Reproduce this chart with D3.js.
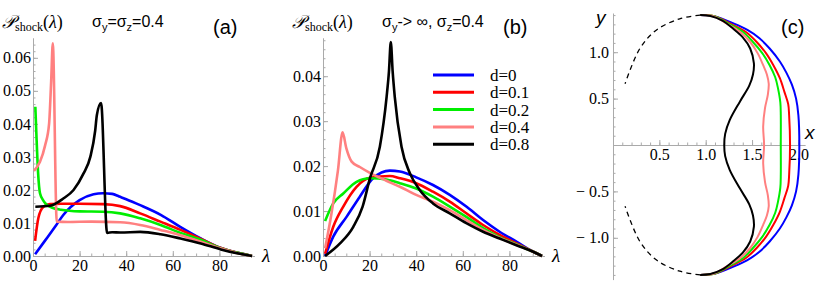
<!DOCTYPE html>
<html>
<head>
<meta charset="utf-8">
<script src="https://d3js.org/d3.v7.min.js"></script>
<style>
  body { margin: 0; background: #fff; }
  svg { display: block; }
  .axis path, .axis line { stroke: #aaa; }
</style>
</head>
<body>
<svg id="chart" width="830" height="285"></svg>
<script>
// ---------- data ----------
const colors = ["#0000ff", "#ff0000", "#00ee00", "#ff8080", "#000000"];
const legendLabels = ["d=0", "d=0.1", "d=0.2", "d=0.4", "d=0.8"];

// panel (a): sigma_y = sigma_z = 0.4
const aLam0 = [0.9, 5, 10, 13, 20, 26, 30, 34, 37, 40, 46, 55, 63, 72, 80, 87, 94];
const aVal0 = [0.0005, 0.0045, 0.0094, 0.0124, 0.0169, 0.0187, 0.019, 0.0188, 0.018, 0.0172, 0.0154, 0.0124, 0.0089, 0.0053, 0.0026, 0.0011, 0];
const aLam1 = [0.9, 2.3, 4.5, 7.3, 12, 20, 30, 37.4, 46, 54.7, 63.3, 72, 80, 87, 94];
const aVal1 = [0.0046, 0.0115, 0.0149, 0.0157, 0.0158, 0.0158, 0.0157, 0.0151, 0.0129, 0.0104, 0.0079, 0.0052, 0.0026, 0.0011, 0];
const aLam2 = [1, 1.5, 2.2, 3, 4.5, 5.9, 8, 12, 20, 30, 37.4, 46, 54.7, 63.3, 72, 80, 87, 94];
const aVal2 = [0.0452, 0.036, 0.025, 0.019, 0.0167, 0.0155, 0.0147, 0.014, 0.0135, 0.0134, 0.0129, 0.0114, 0.0094, 0.007, 0.0049, 0.0025, 0.0011, 0];
const aLam4 = [0.4, 3, 5.2, 6.9, 7.8, 8.5, 10.2, 15, 25, 37.4, 46, 54.7, 63.3, 72, 80, 87, 94];
const aVal4 = [0.0258, 0.0285, 0.0335, 0.04, 0.053, 0.0644, 0.0104, 0.0103, 0.0104, 0.0102, 0.0094, 0.0079, 0.0063, 0.0043, 0.0024, 0.001, 0];
const aLam8 = [1, 7.3, 13, 17.4, 21.7, 24.6, 26.7, 27.4, 29.2, 31.8, 34, 37.4, 46, 54.7, 63.3, 72, 80.6, 87, 94];
const aVal8 = [0.0149, 0.0152, 0.0174, 0.02, 0.025, 0.03, 0.038, 0.0426, 0.0463, 0.007, 0.0072, 0.0071, 0.0073, 0.0066, 0.0053, 0.0038, 0.002, 0.0009, 0];

// panel (b): sigma_y -> infinity, sigma_z = 0.4
const bLam0 = [0.9, 4.4, 10.1, 15.8, 21.5, 28.7, 33, 40, 47.2, 54.4, 61.5, 68.7, 75.8, 83, 90, 94];
const bVal0 = [0, 0.0043, 0.0087, 0.0132, 0.0173, 0.019, 0.0188, 0.0175, 0.0158, 0.0136, 0.011, 0.008, 0.0054, 0.0032, 0.001, 0];
const bLam1 = [0.9, 4.4, 8.7, 14.4, 20.1, 28.7, 33, 40, 47.2, 54.4, 61.5, 68.7, 75.8, 83, 90, 94];
const bVal1 = [0.0005, 0.0065, 0.011, 0.0154, 0.0174, 0.0178, 0.0173, 0.0162, 0.0143, 0.0121, 0.0095, 0.0069, 0.0047, 0.0028, 0.001, 0];
const bLam2 = [0.9, 4.4, 8.7, 14.4, 20.1, 27.3, 33, 40, 47.2, 54.4, 61.5, 68.7, 75.8, 83, 90, 94];
const bVal2 = [0.0078, 0.0117, 0.0139, 0.0165, 0.0173, 0.017, 0.0162, 0.015, 0.0132, 0.011, 0.0087, 0.0062, 0.0042, 0.0026, 0.001, 0];
const bLam4 = [0.9, 3.5, 6.4, 8.4, 10, 12.3, 15.8, 20.1, 27, 33, 40, 47.2, 54.4, 61.5, 68.7, 75.8, 83, 90, 94];
const bVal4 = [0.0017, 0.009, 0.019, 0.0275, 0.024, 0.021, 0.0198, 0.0185, 0.0168, 0.0154, 0.0136, 0.0121, 0.0102, 0.008, 0.0058, 0.004, 0.0025, 0.001, 0];
const bLam8 = [0.9, 7.3, 13, 17, 20.1, 24.4, 27.3, 28.3, 29.1, 29.9, 30.8, 33.7, 37.3, 41.5, 47.2, 54.4, 61.5, 68.7, 75.8, 83, 90, 94];
const bVal8 = [0, 0.0028, 0.0065, 0.011, 0.0172, 0.0243, 0.0354, 0.041, 0.0476, 0.041, 0.0354, 0.0243, 0.0184, 0.0147, 0.0117, 0.0095, 0.0073, 0.0054, 0.0039, 0.0024, 0.001, 0];

// panel (c): shock front shapes, upper half (top -> x axis), mirrored below
const cX0 = [0.94, 1.10, 1.30, 1.45, 1.58, 1.69, 1.80, 1.87, 1.93, 1.975, 2.00, 2.01];
const cY0 = [1.40, 1.385, 1.31, 1.24, 1.15, 1.04, 0.90, 0.78, 0.65, 0.50, 0.32, 0];
const cX1 = [0.94, 1.10, 1.28, 1.43, 1.55, 1.65, 1.73, 1.80, 1.85, 1.89, 1.90, 1.91];
const cY1 = [1.40, 1.385, 1.30, 1.22, 1.11, 0.99, 0.86, 0.72, 0.57, 0.44, 0.32, 0];
const cX2 = [0.94, 1.10, 1.26, 1.40, 1.51, 1.61, 1.69, 1.75, 1.78, 1.805, 1.81, 1.81];
const cY2 = [1.40, 1.385, 1.30, 1.22, 1.11, 0.99, 0.86, 0.73, 0.61, 0.46, 0.32, 0];
const cX4 = [0.94, 1.09, 1.24, 1.37, 1.48, 1.56, 1.62, 1.66, 1.68, 1.67, 1.64, 1.62, 1.63];
const cY4 = [1.40, 1.385, 1.30, 1.22, 1.11, 0.99, 0.86, 0.76, 0.66, 0.54, 0.40, 0.2, 0];
const cX8 = [0.94, 1.05, 1.18, 1.30, 1.40, 1.48, 1.52, 1.51, 1.47, 1.37, 1.26, 1.21, 1.20];
const cY8 = [1.40, 1.39, 1.34, 1.25, 1.16, 1.04, 0.88, 0.76, 0.64, 0.47, 0.27, 0.12, 0];
const cDashX = [0.94, 0.72, 0.47, 0.29, 0.13];
const cDashY = [1.40, 1.36, 1.24, 1.04, 0.66];

const xTicksAB = [0, 20, 40, 60, 80];
const yTicksA = [0, 0.01, 0.02, 0.03, 0.04, 0.05, 0.06];
const yTicksB = [0, 0.01, 0.02, 0.03, 0.04];
const xTicksC = [0.5, 1.0, 1.5, 2.0];
const yTicksC = [-1.0, -0.5, 0.5, 1.0];

// ---------- drawing ----------
const SERIF = "'Liberation Serif', serif";
const SANS = "'Liberation Sans', sans-serif";
const svg = d3.select("#chart");
const zip = (xs, ys) => xs.map((x, i) => [x, ys[i]]);

function styleAxis(sel) {
  sel.attr("font-family", null).attr("font-size", null);
  sel.selectAll("text").attr("fill", "#000")
    .style("font-family", SERIF).style("font-size", "16px");
}

function lambdaPanel(x0, yTop, yMax, yTicks, series, tag, subtitle) {
  const x = d3.scaleLinear().domain([0, 95]).range([x0, x0 + 95 * 2.33]);
  const y = d3.scaleLinear().domain([0, yMax]).range([256, yTop]);
  const g = svg.append("g");

  // minor ticks
  g.append("g").attr("class", "axis").attr("transform", "translate(0,256)")
    .call(d3.axisBottom(x).tickValues(d3.range(0, 95, 5)).tickSizeInner(-2.5).tickSizeOuter(0).tickFormat(""));
  g.append("g").attr("class", "axis").attr("transform", `translate(${x0},0)`)
    .call(d3.axisLeft(y).tickValues(d3.range(0, yMax, 0.002)).tickSizeInner(-2.5).tickSizeOuter(0).tickFormat(""));
  // major ticks
  g.append("g").attr("class", "axis").attr("transform", "translate(0,256)")
    .call(d3.axisBottom(x).tickValues(xTicksAB).tickSizeInner(-5).tickSizeOuter(0).tickPadding(4).tickFormat(d3.format("d")))
    .call(styleAxis);
  g.append("g").attr("class", "axis").attr("transform", `translate(${x0},0)`)
    .call(d3.axisLeft(y).tickValues(yTicks).tickSizeInner(-5).tickSizeOuter(0).tickPadding(2).tickFormat(d3.format(".2f")))
    .call(styleAxis);

  const line = d3.line().x(d => x(d[0])).y(d => y(d[1])).curve(d3.curveMonotoneX);
  series.forEach((s, i) => {
    g.append("path").datum(s).attr("d", line)
      .attr("fill", "none").attr("stroke", colors[i]).attr("stroke-width", 2.6)
      .attr("stroke-linejoin", "round");
  });

  g.append("text").attr("x", x0 + 229).attr("y", 262)
    .style("font-family", SERIF).style("font-style", "italic").style("font-size", "19px")
    .text("λ");

  // axis title P_shock(lambda)
  const t = g.append("text").attr("x", x0 - 31).attr("y", 28)
    .style("font-family", SERIF).style("font-size", "18px");
  t.append("tspan").style("font-style", "italic").text("𝒫");
  t.append("tspan").style("font-size", "12px").attr("dy", 3).text("shock");
  t.append("tspan").attr("dy", -3).text("(");
  t.append("tspan").style("font-style", "italic").text("λ");
  t.append("tspan").text(")");

  subtitle(g);

  g.append("text").attr("x", x0 + 180).attr("y", 34)
    .style("font-family", SANS).style("font-size", "20px")
    .text(tag);
  return g;
}

function sigma(g, x, y, parts) {
  const t = g.append("text").attr("x", x).attr("y", y)
    .style("font-family", SANS).style("font-size", "16px");
  parts.forEach(p => {
    if (p.sub) t.append("tspan").style("font-size", "11px").attr("dy", 4).text(p.sub);
    else t.append("tspan").attr("dy", p.up ? -4 : 0).text(p.t);
  });
}

lambdaPanel(33, 38, 0.066, yTicksA,
  [zip(aLam0, aVal0), zip(aLam1, aVal1), zip(aLam2, aVal2), zip(aLam4, aVal4), zip(aLam8, aVal8)],
  "(a)",
  g => sigma(g, 92, 27, [{t: "σ"}, {sub: "y"}, {t: "=σ", up: true}, {sub: "z"}, {t: "=0.4", up: true}]));

const gb = lambdaPanel(323, 38, 0.0485, yTicksB,
  [zip(bLam0, bVal0), zip(bLam1, bVal1), zip(bLam2, bVal2), zip(bLam4, bVal4), zip(bLam8, bVal8)],
  "(b)",
  g => sigma(g, 382, 27, [{t: "σ"}, {sub: "y"}, {t: "-> ∞, σ", up: true}, {sub: "z"}, {t: "=0.4", up: true}]));

// legend in panel (b)
legendLabels.forEach((lab, i) => {
  const ly = 75 + i * 17.3;
  gb.append("line").attr("x1", 433).attr("x2", 474).attr("y1", ly).attr("y2", ly)
    .attr("stroke", colors[i]).attr("stroke-width", 3);
  gb.append("text").attr("x", 490).attr("y", ly).attr("dy", "0.35em")
    .style("font-family", SERIF).style("font-size", "17px").text(lab);
});

// ---------- panel (c) ----------
const xc = d3.scaleLinear().domain([0, 2.07]).range([613, 613 + 2.07 * 92.7]);
const yc = d3.scaleLinear().domain([-1.45, 1.42]).range([145 + 1.45 * 92.8, 145 - 1.42 * 92.8]);
const gc = svg.append("g");

gc.append("g").attr("class", "axis").attr("transform", `translate(0,${yc(0)})`)
  .call(d3.axisBottom(xc).tickValues(d3.range(0.1, 2.07, 0.1)).tickSizeInner(-2.5).tickSizeOuter(0).tickFormat(""));
gc.append("g").attr("class", "axis").attr("transform", `translate(${xc(0)},0)`)
  .call(d3.axisLeft(yc).tickValues(d3.range(-14, 15, 1).map(v => v / 10)).tickSizeInner(-2.5).tickSizeOuter(0).tickFormat(""));
gc.append("g").attr("class", "axis").attr("transform", `translate(0,${yc(0)})`)
  .call(d3.axisBottom(xc).tickValues(xTicksC).tickSizeInner(-5).tickSizeOuter(0).tickPadding(4).tickFormat(d3.format(".1f")))
  .call(styleAxis);
gc.append("g").attr("class", "axis").attr("transform", `translate(${xc(0)},0)`)
  .call(d3.axisLeft(yc).tickValues(yTicksC).tickSizeInner(-5).tickSizeOuter(0).tickPadding(4)
    .tickFormat(d => d < 0 ? "\u2212 " + d3.format(".1f")(-d) : d3.format(".1f")(d)))
  .call(styleAxis);

const cLine = d3.line().x(d => xc(d[0])).y(d => yc(d[1])).curve(d3.curveCatmullRom.alpha(0.5));
const mirror = pts => pts.concat(pts.slice(0, -1).reverse().map(p => [p[0], -p[1]]));
[[cX0, cY0], [cX1, cY1], [cX2, cY2], [cX4, cY4], [cX8, cY8]].forEach((c, i) => {
  gc.append("path").datum(mirror(zip(c[0], c[1]))).attr("d", cLine)
    .attr("fill", "none").attr("stroke", colors[i]).attr("stroke-width", 2);
});
const dashUp = zip(cDashX, cDashY);
[dashUp, dashUp.map(p => [p[0], -p[1]])].forEach(d => {
  gc.append("path").datum(d).attr("d", cLine)
    .attr("fill", "none").attr("stroke", "#000").attr("stroke-width", 1.3)
    .attr("stroke-dasharray", "5,4");
});

gc.append("text").attr("x", 805).attr("y", 139)
  .style("font-family", SANS).style("font-style", "italic").style("font-size", "19px").text("x");
gc.append("text").attr("x", 596).attr("y", 24)
  .style("font-family", SANS).style("font-style", "italic").style("font-size", "19px").text("y");
gc.append("text").attr("x", 781).attr("y", 34)
  .style("font-family", SANS).style("font-size", "20px").text("(c)");
</script>
</body>
</html>
